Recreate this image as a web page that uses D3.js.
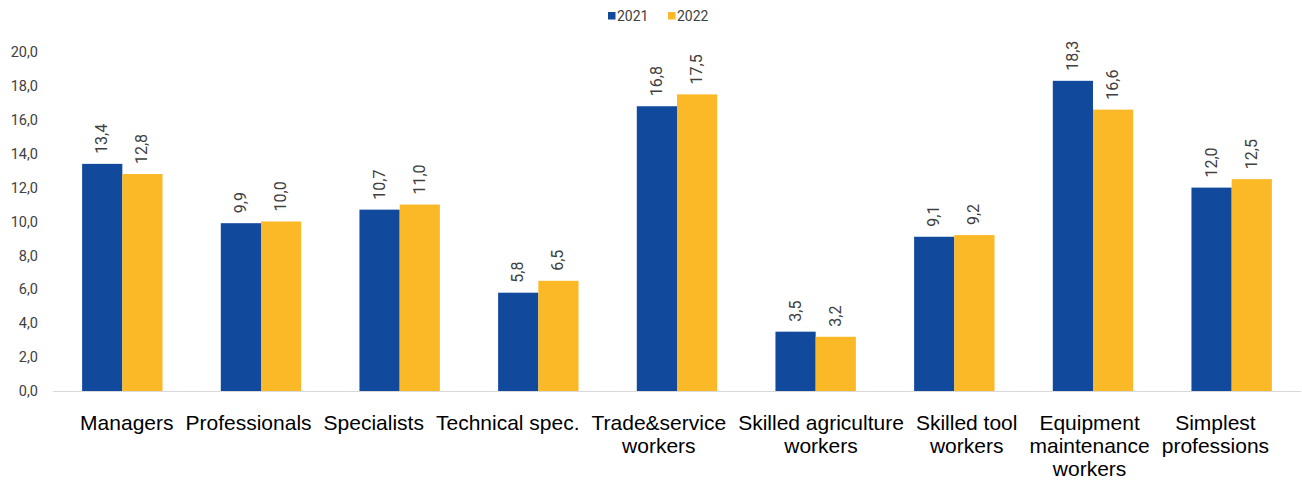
<!DOCTYPE html>
<html>
<head>
<meta charset="utf-8">
<script src="https://cdn.jsdelivr.net/npm/d3@7"></script>
<style>
  html, body { margin: 0; padding: 0; background: #fff; }
  svg { display: block; }
</style>
</head>
<body>
<svg id="chart" width="1302" height="484"></svg>
<script>
// Occupational groups (line breaks mark the wrapped label lines)
const categories = [
  "Managers",
  "Professionals",
  "Specialists",
  "Technical spec.",
  "Trade&service\nworkers",
  "Skilled agriculture\nworkers",
  "Skilled tool\nworkers",
  "Equipment\nmaintenance\nworkers",
  "Simplest\nprofessions"
];
const seriesNames = ["2021", "2022"];
const values2021 = [13.4, 9.9, 10.7, 5.8, 16.8, 3.5, 9.1, 18.3, 12.0];
const values2022 = [12.8, 10.0, 11.0, 6.5, 17.5, 3.2, 9.2, 16.6, 12.5];
const yTicks = [0, 2, 4, 6, 8, 10, 12, 14, 16, 18, 20];

const colors = { "2021": "#11499c", "2022": "#fbb927" };
const fmt = v => v.toFixed(1).replace(".", ",");

const svg = d3.select("#chart");
const plot = { left: 53, right: 1301, top: 52, bottom: 391 };

const x = d3.scaleBand()
  .domain(categories)
  .range([plot.left, plot.right])
  .paddingInner(0.42)
  .paddingOuter(0.21);

const xs = d3.scaleBand()
  .domain(seriesNames)
  .range([0, x.bandwidth()]);

const y = d3.scaleLinear()
  .domain([0, 20])
  .range([plot.bottom, plot.top]);

// Y axis tick labels (no axis line)
const yAxis = d3.axisLeft(y)
  .tickValues(yTicks)
  .tickFormat(fmt)
  .tickSize(0)
  .tickPadding(0);
const yg = svg.append("g")
  .attr("transform", "translate(38,0)")
  .call(yAxis);
yg.select(".domain").remove();
yg.selectAll("text")
  .attr("font-family", "Roboto, sans-serif")
  .attr("font-size", 14.5)
  .attr("fill", "#404040");

// Baseline
svg.append("line")
  .attr("x1", plot.left).attr("x2", plot.right)
  .attr("y1", y(0) + 0.5).attr("y2", y(0) + 0.5)
  .attr("stroke", "#d9d9d9")
  .attr("stroke-width", 1.2);

const rows = categories.map((c, i) => ({
  cat: c,
  items: [
    { key: "2021", value: values2021[i] },
    { key: "2022", value: values2022[i] }
  ]
}));

const groups = svg.append("g").selectAll("g")
  .data(rows)
  .join("g")
  .attr("transform", d => `translate(${x(d.cat)},0)`);

groups.selectAll("rect")
  .data(d => d.items)
  .join("rect")
  .attr("x", d => xs(d.key))
  .attr("y", d => y(d.value))
  .attr("width", xs.bandwidth())
  .attr("height", d => y(0) - y(d.value))
  .attr("fill", d => colors[d.key]);

// Rotated value labels above each bar
groups.selectAll("text")
  .data(d => d.items)
  .join("text")
  .attr("transform", d => `translate(${xs(d.key) + xs.bandwidth() / 2 + 5},${y(d.value) - 10}) rotate(-90)`)
  .attr("font-family", "Roboto, sans-serif")
  .attr("font-size", 16)
  .attr("fill", "#404040")
  .attr("text-anchor", "start")
  .text(d => fmt(d.value));

// Category labels: wrapped blocks laid out one after another, lines centred
const catFont = { family: "'Liberation Sans', Arial, sans-serif", size: 21 };
const labelGap = 12;
const labelG = svg.append("g")
  .attr("font-family", catFont.family)
  .attr("font-size", catFont.size)
  .attr("fill", "#000");

let cursor = x(categories[0]) - 2;
categories.forEach(c => {
  const lines = c.split("\n");
  const t = labelG.append("text").attr("text-anchor", "middle");
  const spans = lines.map(ln => t.append("tspan").text(ln));
  const w = d3.max(spans, s => s.node().getComputedTextLength());
  const cx = cursor + w / 2;
  spans.forEach((s, k) => s.attr("x", cx).attr("y", 430 + k * 23));
  cursor += w + labelGap;
});

// Legend
const legend = svg.append("g").attr("transform", "translate(608,12)");
const li = legend.selectAll("g")
  .data(seriesNames)
  .join("g")
  .attr("transform", (d, i) => `translate(${i * 60},0)`);
li.append("rect")
  .attr("width", 7.5).attr("height", 7.5)
  .attr("fill", d => colors[d]);
li.append("text")
  .attr("x", 9).attr("y", 8.5)
  .attr("font-family", "Roboto, sans-serif")
  .attr("font-size", 14)
  .attr("fill", "#404040")
  .text(d => d);
</script>
</body>
</html>
